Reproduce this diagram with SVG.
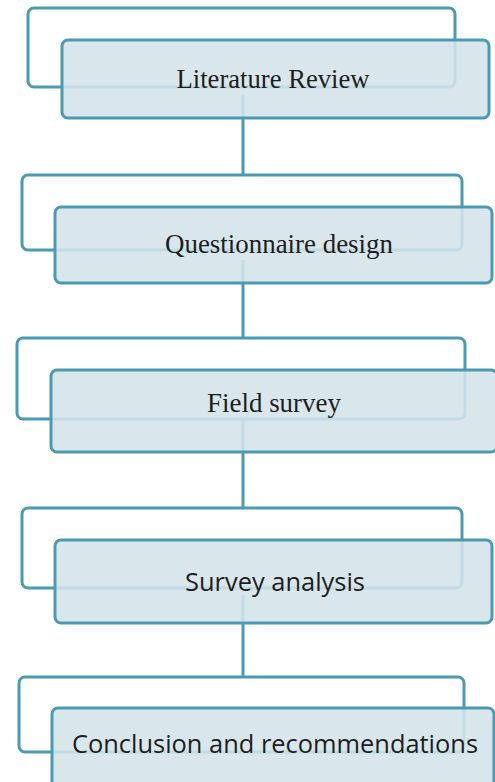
<svg xmlns="http://www.w3.org/2000/svg" width="495" height="782" viewBox="0 0 495 782">
<style>
.back{fill:none;stroke:#4a9bb1;stroke-width:3}
.front{fill:#d4e4eb;fill-opacity:0.88;stroke:#4a9bb1;stroke-width:3}
.conn{stroke:#4a9bb1;stroke-width:3;fill:none}
.serif{font-family:"Liberation Serif","Times New Roman",serif;font-size:27px;fill:#1e1e1e;text-anchor:middle}
.sans{font-family:"Open Sans","Noto Sans",sans-serif;font-size:25px;fill:#1e1e1e;text-anchor:middle}
</style>
<rect width="495" height="782" fill="#ffffff"/>
<g id="back-frames">
<rect class="back" x="28" y="8" width="427" height="79" rx="6"/>
<rect class="back" x="22" y="175" width="440" height="75" rx="6"/>
<rect class="back" x="17" y="338" width="448" height="81" rx="6"/>
<rect class="back" x="22" y="508" width="440" height="80" rx="6"/>
<rect class="back" x="19" y="677" width="445" height="75" rx="6"/>
</g>
<g id="connectors">
<line class="conn" x1="243" y1="95" x2="243" y2="175"/>
<line class="conn" x1="243" y1="260" x2="243" y2="338"/>
<line class="conn" x1="243" y1="420" x2="243" y2="508"/>
<line class="conn" x1="243" y1="595" x2="243" y2="677"/>
</g>
<g id="node-literature-review">
<rect class="front" x="62" y="40" width="427" height="78" rx="6"/>
<text class="serif" x="273" y="88" textLength="193" lengthAdjust="spacingAndGlyphs">Literature Review</text>
</g>
<g id="node-questionnaire-design">
<rect class="front" x="55" y="207" width="437" height="76" rx="6"/>
<text class="serif" x="279" y="253" textLength="228" lengthAdjust="spacingAndGlyphs">Questionnaire design</text>
</g>
<g id="node-field-survey">
<rect class="front" x="51" y="370" width="446" height="82" rx="6"/>
<text class="serif" x="274" y="412" textLength="134" lengthAdjust="spacingAndGlyphs">Field survey</text>
</g>
<g id="node-survey-analysis">
<rect class="front" x="55" y="540" width="437" height="83" rx="6"/>
<text class="sans" x="275" y="591" textLength="180" lengthAdjust="spacingAndGlyphs">Survey analysis</text>
</g>
<g id="node-conclusion">
<rect class="front" x="52" y="708" width="442" height="82" rx="6"/>
<text class="sans" x="275" y="753" textLength="406" lengthAdjust="spacingAndGlyphs">Conclusion and recommendations</text>
</g>
</svg>
